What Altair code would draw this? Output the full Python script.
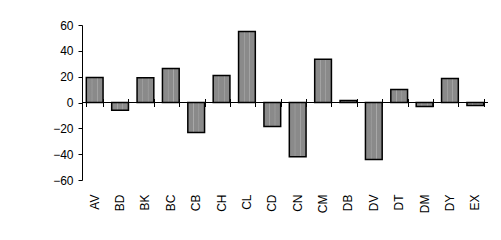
import altair as alt
import pandas as pd

categories = ["AV", "BD", "BK", "BC", "CB", "CH", "CL", "CD", "CN", "CM", "DB", "DV", "DT", "DM", "DY", "EX"]
values = [19.4, -6, 19.2, 26.3, -23.3, 21, 55, -18.6, -42, 33.4, 1.5, -44.2, 10, -3, 18.6, -2.3]
y_ticks = [60, 40, 20, 0, -20, -40, -60]

df = pd.DataFrame({"cat": categories, "val": values})

W, H = 406, 155
FONT = "Liberation Sans"

xscale = alt.Scale(domain=categories, paddingInner=0.34, paddingOuter=0.17)
yscale = alt.Scale(domain=[-60, 60], nice=False, zero=True)

fill = alt.Gradient(
    gradient="linear",
    x1=0, x2=1, y1=0, y2=0,
    stops=[
        alt.GradientStop(offset=0, color="#8a8a8a"),
        alt.GradientStop(offset=0.30, color="#8a8a8a"),
        alt.GradientStop(offset=0.34, color="#a8a8a8"),
        alt.GradientStop(offset=0.38, color="#8a8a8a"),
        alt.GradientStop(offset=0.62, color="#8a8a8a"),
        alt.GradientStop(offset=0.66, color="#a8a8a8"),
        alt.GradientStop(offset=0.70, color="#8a8a8a"),
        alt.GradientStop(offset=1, color="#8a8a8a"),
    ],
)

bars = alt.Chart(df).mark_bar(fill=fill, stroke="black", strokeWidth=1.5).encode(
    x=alt.X("cat:N", scale=xscale, sort=categories, title=None,
            axis=alt.Axis(orient="bottom", domain=False, ticks=False, labelAngle=-90,
                          labelAlign="right", labelBaseline="middle", labelPadding=14,
                          labelFont=FONT, labelFontSize=12, labelColor="black")),
    y=alt.Y("val:Q", scale=yscale, title=None,
            axis=alt.Axis(values=y_ticks, grid=False, domainColor="black", domainWidth=1,
                          tickColor="black", tickSize=4, labelPadding=5, labelOverlap=False,
                          labelFont=FONT, labelFontSize=12, labelColor="black")),
    y2=alt.datum(0),
)

zero = alt.Chart(df).mark_rule(color="black", strokeWidth=1).encode(
    x=alt.X("cat:N", scale=xscale, sort=categories, title=None,
            axis=alt.Axis(orient="top", offset=-(H / 2 + 4), domain=False, labels=False,
                          tickBand="extent", tickSize=8, tickColor="black", tickWidth=1)),
    y=alt.YDatum(0, scale=yscale, axis=None),
)

zline = alt.Chart(pd.DataFrame({"a": [0]})).mark_rule(color="black", strokeWidth=1.2).encode(
    y=alt.YDatum(0, axis=None),
    x=alt.value(0),
    x2=alt.value(W),
)

chart = (
    alt.layer(bars, zero, zline)
    .resolve_axis(x="independent", y="independent")
    .properties(width=W, height=H, background="white",
                autosize=alt.AutoSizeParams(type="none"),
                padding={"left": 82, "top": 25, "right": 13, "bottom": 60})
    .configure_view(stroke=None)
)

chart.save("out.html", embed_options={"renderer": "svg", "actions": False})
